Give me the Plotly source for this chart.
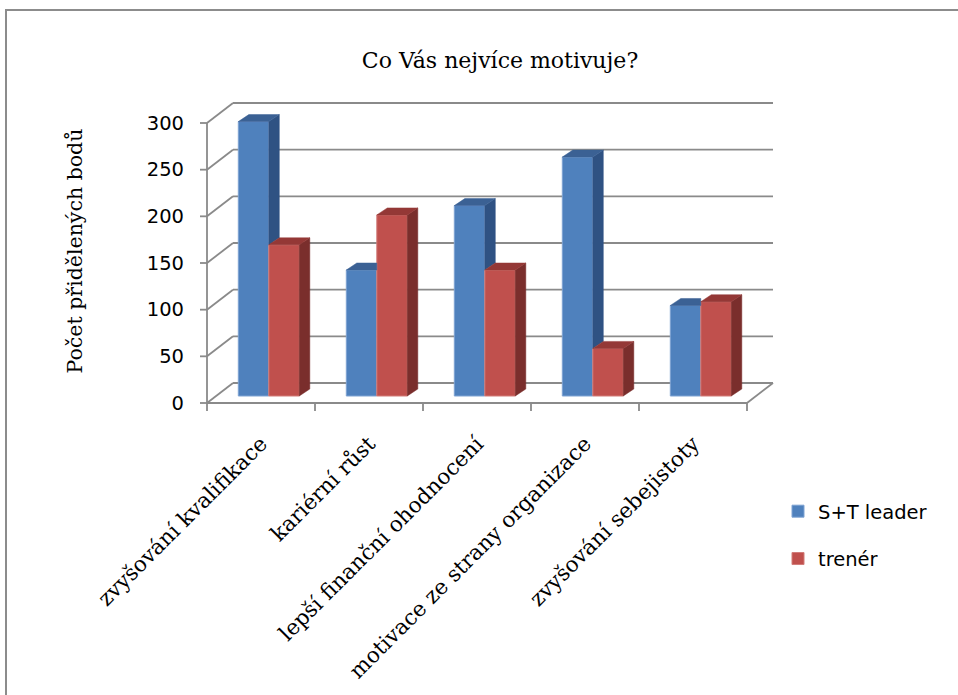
import plotly.graph_objects as go

# ---- data ----
categories = [
    "zvyšování kvalifikace",
    "kariérní růst",
    "lepší finanční ohodnocení",
    "motivace ze strany organizace",
    "zvyšování sebejistoty",
]
st_leader = [294, 135, 204, 256, 97]
trener = [162, 194, 135, 51, 101]
series_names = ["S+T leader", "trenér"]
y_ticks = [0, 50, 100, 150, 200, 250, 300]

# ---- geometry of the pseudo-3D box (pixels -> axis units) ----
W_FIG, H_FIG = 958, 695
PLOT_L, PLOT_R, PLOT_T, PLOT_B = 195, 790, 90, 412
X0_PX, Y0_PX = 207, 403          # front corner of the floor (x=-0.5, y=0)
UNIT_X = 108.0                    # px per category
UNIT_Y = 280.0 / 300.0            # px per value unit

x_range = [-0.5 - (X0_PX - PLOT_L) / UNIT_X, -0.5 + (PLOT_R - X0_PX) / UNIT_X]
y_range = [-(PLOT_B - Y0_PX) / UNIT_Y, (Y0_PX - PLOT_T) / UNIT_Y]

WALL_DX, WALL_DY = 26 / UNIT_X, 20 / UNIT_Y      # depth of the walls
PLANE_DX, PLANE_DY = 7.8 / UNIT_X, 7 / UNIT_Y    # bar front plane offset
BAR_DX, BAR_DY = 10.5 / UNIT_X, 7 / UNIT_Y       # bar depth
BAR_W = 30.5 / UNIT_X

BLUE = dict(front="#4F81BD", top="#3B6194", side="#2F5283", edge="#7FA3D3")
RED = dict(front="#C0504D", top="#943836", side="#7A2E2C", edge="#D27C79")
GRID = "#8A8A8A"

n = len(categories)
fig = go.Figure()

# front faces of the bars
for name, vals, col, off in [
    (series_names[0], st_leader, BLUE, -BAR_W),
    (series_names[1], trener, RED, 0.0),
]:
    fig.add_trace(go.Bar(
        name=name, legendgroup=name,
        x=[i + PLANE_DX for i in range(n)], y=vals, base=PLANE_DY,
        width=BAR_W, offset=off,
        marker=dict(color=col["front"], line=dict(color=col["edge"], width=1)),
        hoverinfo="skip",
    ))

# side and top faces
def poly_trace(xs, ys, color):
    return go.Scatter(x=xs, y=ys, mode="lines", fill="toself", fillcolor=color,
                      line=dict(color=color, width=0.5), showlegend=False,
                      hoverinfo="skip")

bs_x, bs_y, bt_x, bt_y = [], [], [], []
rs_x, rs_y, rt_x, rt_y = [], [], [], []
for i in range(n):
    cx = i + PLANE_DX
    base = PLANE_DY
    bl, br = cx - BAR_W, cx
    rl, rr = cx, cx + BAR_W
    b_top = base + st_leader[i]
    r_top = base + trener[i]
    if b_top > r_top:
        bs_x += [br, br + BAR_DX, br + BAR_DX, br, br, None]
        bs_y += [r_top, r_top + BAR_DY, b_top + BAR_DY, b_top, r_top, None]
        bt_x += [bl, bl + BAR_DX, br + BAR_DX, br, bl, None]
        bt_y += [b_top, b_top + BAR_DY, b_top + BAR_DY, b_top, b_top, None]
    else:
        bt_x += [bl, bl + BAR_DX, br, br, bl, None]
        bt_y += [b_top, b_top + BAR_DY, b_top + BAR_DY, b_top, b_top, None]
    rs_x += [rr, rr + BAR_DX, rr + BAR_DX, rr, rr, None]
    rs_y += [base, base + BAR_DY, r_top + BAR_DY, r_top, base, None]
    rt_x += [rl, rl + BAR_DX, rr + BAR_DX, rr, rl, None]
    rt_y += [r_top, r_top + BAR_DY, r_top + BAR_DY, r_top, r_top, None]

fig.add_trace(poly_trace(bs_x, bs_y, BLUE["side"]))
fig.add_trace(poly_trace(bt_x, bt_y, BLUE["top"]))
fig.add_trace(poly_trace(rs_x, rs_y, RED["side"]))
fig.add_trace(poly_trace(rt_x, rt_y, RED["top"]))

# walls, gridlines, axis and tick marks
shapes = []
def seg(x0, y0, x1, y1, width=1.8):
    shapes.append(dict(type="line", xref="x", yref="y", x0=x0, y0=y0, x1=x1, y1=y1,
                       line=dict(color=GRID, width=width), layer="below"))

x_front_l, x_front_r = -0.5, n - 0.5
for v in y_ticks:
    seg(x_front_l + WALL_DX, v + WALL_DY, x_front_r + WALL_DX, v + WALL_DY)   # back wall
    seg(x_front_l, v, x_front_l + WALL_DX, v + WALL_DY)                      # side wall
    seg(x_front_l - 7 / UNIT_X, v, x_front_l, v)                              # y tick
seg(x_front_l, 0, x_front_l, y_ticks[-1])                                     # value axis
seg(x_front_l, 0, x_front_r, 0)                                               # floor front edge
seg(x_front_r, 0, x_front_r + WALL_DX, WALL_DY)                               # floor right edge
for k in range(n + 1):
    seg(k - 0.5, 0, k - 0.5, -8 / UNIT_Y)                                     # category ticks

# outer chart frame
def px_x(p):
    return (p - PLOT_L) / (PLOT_R - PLOT_L)
def px_y(p):
    return (PLOT_B - p) / (PLOT_B - PLOT_T)
shapes.append(dict(type="rect", xref="paper", yref="paper",
                   x0=px_x(6), y0=px_y(705), x1=px_x(975), y1=px_y(10),
                   line=dict(color="#8C8C8C", width=2), fillcolor="rgba(0,0,0,0)",
                   layer="below"))

SERIF = "DejaVu Serif"
SANS = "DejaVu Sans"

fig.update_layout(
    width=W_FIG, height=H_FIG,
    margin=dict(l=PLOT_L, r=W_FIG - PLOT_R, t=PLOT_T, b=H_FIG - PLOT_B, autoexpand=False),
    paper_bgcolor="white", plot_bgcolor="rgba(0,0,0,0)",
    barmode="overlay",
    shapes=shapes,
    title=dict(text="Co Vás nejvíce motivuje?", x=500 / W_FIG, xanchor="center",
               y=1 - 60 / H_FIG, yanchor="middle", yref="container",
               font=dict(family=SERIF, size=22, color="black")),
    xaxis=dict(range=x_range, showgrid=False, zeroline=False, showline=False,
               tickmode="array", tickvals=list(range(n)), ticktext=categories,
               tickangle=-45, ticks="", ticklabelstandoff=14,
               tickfont=dict(family=SERIF, size=21.5, color="black"), fixedrange=True),
    yaxis=dict(range=y_range, showgrid=False, zeroline=False, showline=False,
               tickmode="array", tickvals=y_ticks, ticktext=[str(v) for v in y_ticks],
               ticks="", ticklabelstandoff=10,
               tickfont=dict(family=SANS, size=19.5, color="black"),
               title=dict(text="Počet přidělených bodů", standoff=58,
                          font=dict(family=SERIF, size=20.5, color="black")),
               fixedrange=True),
    legend=dict(x=px_x(778), xanchor="left", y=px_y(492), yanchor="top",
                font=dict(family=SANS, size=19.5, color="black"),
                traceorder="grouped", tracegroupgap=19,
                bgcolor="rgba(0,0,0,0)", borderwidth=0),
    showlegend=True,
)

fig.write_html("out.html")
